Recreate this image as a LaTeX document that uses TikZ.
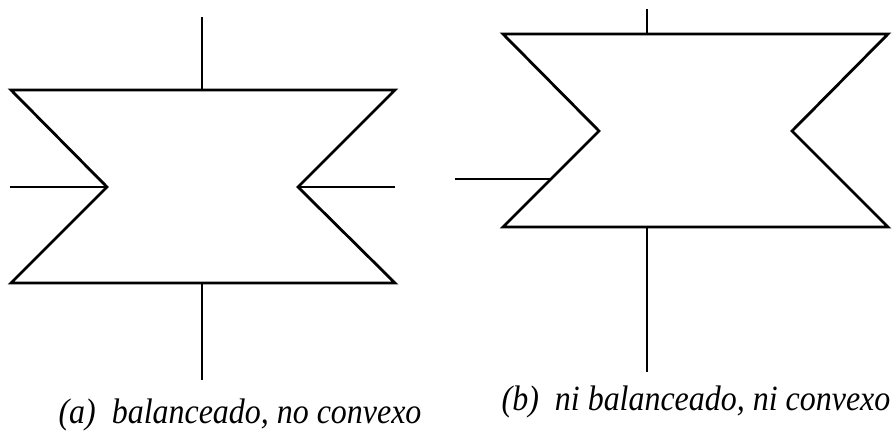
\documentclass[tikz,border=0pt]{standalone}
\usepackage{fontspec}
\setmainfont{Liberation Serif}[ItalicFont={Liberation Serif Italic}]
\begin{document}
\begin{tikzpicture}[x=1pt,y=-1pt,
  outline/.style={line width=2.8pt,line join=miter},
  stick/.style={line width=2pt},
  caption/.style={font=\fontsize{35.5}{38}\selectfont\itshape,inner sep=0pt,anchor=base}]
\useasboundingbox (0,0) rectangle (895,431);
% (a)
\draw[stick] (202,17) -- (202,90);
\draw[stick] (202,283) -- (202,380);
\draw[stick] (10,187) -- (107,187);
\draw[stick] (298,187) -- (395,187);
\draw[outline] (11,90) -- (395,90) -- (298,187) -- (395,283) -- (11,283) -- (107,187) -- cycle;
\node[caption] (capa) at (240,423) {\scalebox{0.9}[1]{(a)\hspace{0.5em}balanceado, no convexo}};
% (b)
\draw[stick] (647,9) -- (647,34);
\draw[stick] (647,227) -- (647,372);
\draw[stick] (455,179) -- (551,179);
\draw[outline] (503,34) -- (888,34) -- (792,131) -- (888,227) -- (503,227) -- (599,131) -- cycle;
\node[caption] (capb) at (696,410) {\scalebox{0.9}[1]{(b)\hspace{0.5em}ni balanceado, ni convexo}};
\end{tikzpicture}
\end{document}
